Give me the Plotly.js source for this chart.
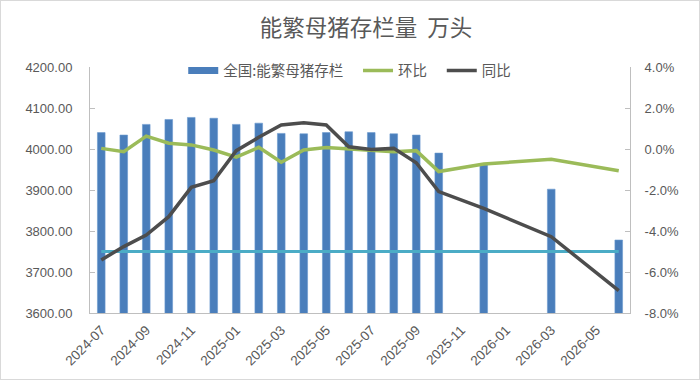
<!DOCTYPE html>
<html>
<head>
<meta charset="utf-8">
<script src="https://cdn.plot.ly/plotly-3.0.1.min.js"></script>
<style>
  html, body { margin: 0; padding: 0; background: #ffffff; }
  #wrap { position: relative; width: 700px; height: 380px; }
  #chart { width: 700px; height: 380px; }
  #frame { position: absolute; left: 0; top: 0; width: 700px; height: 380px;
           box-sizing: border-box; border: 1px solid #d9d9d9; pointer-events: none; }
</style>
</head>
<body>
<div id="wrap">
  <div id="chart"></div>
  <div id="frame"></div>
</div>
<script>
// Monthly categories (2024-07 .. 2026-06)
const months = [
  '2024-07','2024-08','2024-09','2024-10','2024-11','2024-12',
  '2025-01','2025-02','2025-03','2025-04','2025-05','2025-06',
  '2025-07','2025-08','2025-09','2025-10','2025-11','2025-12',
  '2026-01','2026-02','2026-03','2026-04','2026-05','2026-06'
];

// 全国:能繁母猪存栏 (万头)
const sowStock = [
  4040, 4034, 4060, 4072, 4077, 4075,
  4060, 4063, 4038, 4037, 4040, 4042,
  4040, 4037, 4034, 3990, null, 3961,
  null, null, 3902, null, null, 3778
];

// 环比 (%)
const momPct = [
  0.03, -0.13, 0.63, 0.28, 0.20, -0.05,
  -0.40, 0.08, -0.65, -0.05, 0.07, -0.01,
  -0.08, -0.13, -0.08, -1.10, null, -0.73,
  null, null, -0.50, null, null, -1.06
];

// 同比 (%)
const yoyPct = [
  -5.41, -4.76, -4.20, -3.30, -1.87, -1.55,
  -0.08, 0.57, 1.17, 1.28, 1.17, 0.11,
  -0.02, 0.03, -0.67, -2.08, null, -2.90,
  null, null, -4.28, null, null, -6.91
];

// Reference level line (万头)
const refLevel = [
  3750, 3750, 3750, 3750, 3750, 3750,
  3750, 3750, 3750, 3750, 3750, 3750,
  3750, 3750, 3750, 3750, 3750, 3750,
  3750, 3750, 3750, 3750, 3750, 3750
];

// Axis tick labels
const xTickLabels = ['2024-07','2024-09','2024-11','2025-01','2025-03','2025-05',
                     '2025-07','2025-09','2025-11','2026-01','2026-03','2026-05'];
const leftTicks = [3600, 3700, 3800, 3900, 4000, 4100, 4200];
const rightTicks = [-8, -6, -4, -2, 0, 2, 4];
const rightTickText = ['-8.0%', '-6.0%', '-4.0%', '-2.0%', '0.0%', '2.0%', '4.0%'];

const textColor = '#595959';
const axisColor = '#bfbfbf';
const barColor = '#4a7ebb';
const tickFont = { family: 'Liberation Sans, Arial, sans-serif', size: 13, color: textColor };
const xTickFont = { family: 'Liberation Sans, Arial, sans-serif', size: 13.5, color: textColor };
// non-breaking padding that widens the gap between legend entries
const pad = '\u00a0\u00a0\u00a0';

const traces = [
  {
    type: 'bar', name: '全国:能繁母猪存栏', x: months, y: sowStock,
    marker: { color: barColor, line: { color: '#6a98cf', width: 0.6 } },
    yaxis: 'y', hoverinfo: 'x+y', showlegend: false, legendgroup: 'stock'
  },
  {
    // legend key for the bars, drawn as a wide flat swatch
    type: 'scatter', mode: 'lines', name: '全国:能繁母猪存栏' + pad, x: [null], y: [null],
    line: { color: barColor, width: 7 }, yaxis: 'y', legendgroup: 'stock'
  },
  {
    type: 'scatter', mode: 'lines', name: '基准线', x: months, y: refLevel,
    line: { color: '#4bacc6', width: 3 }, yaxis: 'y', showlegend: false
  },
  {
    type: 'scatter', mode: 'lines', name: '环比' + pad, x: months, y: momPct,
    connectgaps: true, line: { color: '#9bbb59', width: 3.5 }, yaxis: 'y2'
  },
  {
    type: 'scatter', mode: 'lines', name: '同比', x: months, y: yoyPct,
    connectgaps: true, line: { color: '#4d4d4d', width: 3.5 }, yaxis: 'y2'
  }
];

const layout = {
  width: 700, height: 380,
  margin: { l: 90, r: 70, t: 67, b: 67 },
  paper_bgcolor: '#ffffff', plot_bgcolor: '#ffffff',
  bargap: 0.66,
  title: {
    text: '能繁母猪存栏量  万头',
    font: { family: 'Noto Sans CJK SC, sans-serif', size: 22.5, color: textColor, weight: 400 },
    x: 0.511, xref: 'paper', xanchor: 'center', y: 0.925, yanchor: 'middle'
  },
  showlegend: true,
  legend: {
    orientation: 'h', x: 0.481, xanchor: 'center', y: 0.985, yanchor: 'middle',
    bgcolor: 'rgba(0,0,0,0)',
    font: { family: 'Noto Sans CJK SC, sans-serif', size: 14.5, color: textColor },
    traceorder: 'normal'
  },
  xaxis: {
    type: 'category',
    categoryorder: 'array', categoryarray: months,
    range: [-0.5, months.length - 0.5],
    tickmode: 'array', tickvals: xTickLabels, ticktext: xTickLabels,
    tickangle: -45, tickfont: xTickFont, ticklabelstandoff: 3,
    showline: true, linecolor: axisColor, linewidth: 1,
    ticks: '', showgrid: false, zeroline: false
  },
  yaxis: {
    range: [3600, 4200],
    tickmode: 'array', tickvals: leftTicks, tickformat: '.2f',
    tickfont: tickFont, ticklabelstandoff: 14,
    ticks: 'inside', ticklen: 5, tickcolor: axisColor,
    showline: true, linecolor: axisColor, linewidth: 1,
    showgrid: false, zeroline: false
  },
  yaxis2: {
    overlaying: 'y', side: 'right',
    range: [-8, 4],
    tickmode: 'array', tickvals: rightTicks, ticktext: rightTickText,
    tickfont: tickFont, ticklabelstandoff: 11,
    ticks: 'inside', ticklen: 5, tickcolor: axisColor,
    showline: true, linecolor: axisColor, linewidth: 1,
    showgrid: false, zeroline: false
  }
};

Plotly.newPlot('chart', traces, layout, { displayModeBar: false, staticPlot: true });
</script>
</body>
</html>
